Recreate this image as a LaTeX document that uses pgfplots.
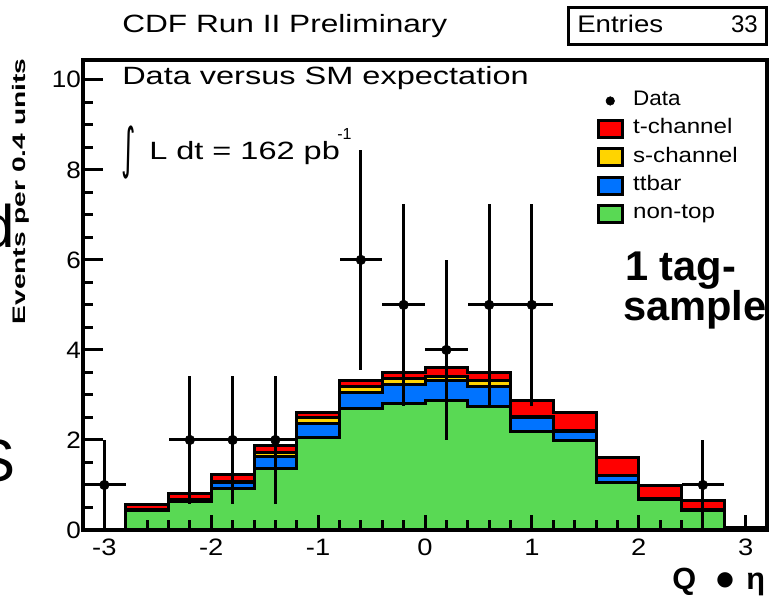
\documentclass[border=0pt]{standalone}
\usepackage{pgfplots}
\pgfplotsset{compat=1.18}
\usepackage{pgfplotstable}
\usepackage{graphicx}
\usepackage{fontspec}
\setmainfont{Liberation Sans}
\newfontfamily\symfont{DejaVu Sans}

\definecolor{tchanred}{RGB}{255,0,0}
\definecolor{schanyellow}{RGB}{255,212,0}
\definecolor{ttbarblue}{RGB}{0,115,255}
\definecolor{nontopgreen}{RGB}{89,217,84}

\newcommand{\fsz}[1]{\fontsize{#1}{#1}\selectfont}
\newcommand{\sx}[2]{\scalebox{#1}[1]{#2}}

% upper edge of each stacked layer, per 0.4-wide bin (bin low edge in xlo)
\pgfplotstableread{
xlo   nontop ttbar schan tchan
-3.2  0.00   0.00  0.00  0.00
-2.8  0.43   0.45  0.46  0.57
-2.4  0.63   0.65  0.67  0.80
-2.0  0.93   1.05  1.08  1.24
-1.6  1.37   1.63  1.73  1.87
-1.2  2.05   2.36  2.49  2.62
-0.8  2.70   3.05  3.18  3.31
-0.4  2.81   3.24  3.37  3.50
 0.0  2.87   3.32  3.42  3.62
 0.4  2.74   3.19  3.32  3.49
 0.8  2.18   2.50  2.52  2.87
 1.2  1.98   2.18  2.20  2.62
 1.6  1.05   1.20  1.22  1.62
 2.0  0.67   0.68  0.69  0.98
 2.4  0.43   0.44  0.45  0.66
 2.8  0.03   0.03  0.04  0.06
 3.2  0.03   0.03  0.04  0.06
}\stacktable

% observed events: bin centre, count, half bin width, Poisson error
\pgfplotstableread{
x     n  ex   ey
-3.0  1  0.2  1.000
-2.2  2  0.2  1.414
-1.8  2  0.2  1.414
-1.4  2  0.2  1.414
-0.6  6  0.2  2.449
-0.2  5  0.2  2.236
 0.2  4  0.2  2.000
 0.6  5  0.2  2.236
 1.0  5  0.2  2.236
 2.6  1  0.2  1.000
}\datatable

\tikzset{pixel/.style={x=0.75pt,y=-0.75pt,shift={(-62.25pt,397.5pt)}}}

\begin{document}
\begin{tikzpicture}
% slide text lying behind the frame
\begin{scope}[pixel]
  \node[anchor=base west, inner sep=0, font=\bfseries\fsz{31.2pt}] at (625,280) {1 tag-};
  \node[anchor=base west, inner sep=0, font=\bfseries\fsz{31.2pt}] at (623,320) {sample};
  \node[anchor=base west, inner sep=0, font=\fsz{45pt}] at (-19,247) {d};
  \node[anchor=base west, inner sep=0, font=\fsz{45pt}] at (-25,481) {S};
\end{scope}

\begin{axis}[
  scale only axis, width=513pt, height=352.5pt,
  xmin=-3.2, xmax=3.2, ymin=0, ymax=10.44,
  axis on top,
  axis line style={line width=2.6pt},
  tick pos=left, tick align=inside,
  every tick/.append style={black, line width=2.25pt},
  xtick={-3,...,3},
  xticklabels={\sx{1.15}{-3},\sx{1.15}{-2},\sx{1.15}{-1},\sx{1.15}{0},\sx{1.15}{1},\sx{1.15}{2},\sx{1.15}{3}},
  ytick={0,2,...,10},
  yticklabels={\sx{1.1}{0},\sx{1.1}{2},\sx{1.1}{4},\sx{1.1}{6},\sx{1.1}{8},\sx{1.1}{10}},
  minor x tick num=4, minor y tick num=3,
  xtick style={/pgfplots/major tick length=11.25pt,/pgfplots/minor tick length=7.5pt},
  ytick style={/pgfplots/major tick length=15pt,/pgfplots/minor tick length=7.5pt},
  tick label style={font=\fsz{17.8pt}},
  xticklabel style={yshift=-3pt},
  yticklabel style={xshift=2pt},
  legend cell align=left,
  legend style={at={(axis description cs:0.7507,0.934)}, anchor=north west,
    draw=none, fill=none, inner sep=0pt, row sep=6.2pt, font=\fsz{15.75pt},
    nodes={inner sep=0pt, text height=11pt, text depth=3.5pt},
    /tikz/every odd column/.append style={column sep=7pt}},
]
% legend entries
\addlegendimage{legend image code/.code={\fill[black] plot[mark=*, mark size=3.2pt] coordinates {(9pt,0pt)};}}
\addlegendentry{\sx{1.07}{Data}}
\addlegendimage{legend image code/.code={\draw[black, line width=2.25pt, fill=tchanred] (0pt,-6.4pt) rectangle (18pt,6.4pt);}}
\addlegendentry{\sx{1.15}{t-channel}}
\addlegendimage{legend image code/.code={\draw[black, line width=2.25pt, fill=schanyellow] (0pt,-6.4pt) rectangle (18pt,6.4pt);}}
\addlegendentry{\sx{1.15}{s-channel}}
\addlegendimage{legend image code/.code={\draw[black, line width=2.25pt, fill=ttbarblue] (0pt,-6.4pt) rectangle (18pt,6.4pt);}}
\addlegendentry{\sx{1.15}{ttbar}}
\addlegendimage{legend image code/.code={\draw[black, line width=2.25pt, fill=nontopgreen] (0pt,-6.4pt) rectangle (18pt,6.4pt);}}
\addlegendentry{\sx{1.15}{non-top}}

% stacked expectation, outermost layer first
\addplot[const plot mark left, fill=tchanred, draw=black, line width=2.25pt, forget plot]
  table[x=xlo, y=tchan] {\stacktable} \closedcycle;
\addplot[const plot mark left, fill=schanyellow, draw=black, line width=2.25pt, forget plot]
  table[x=xlo, y=schan] {\stacktable} \closedcycle;
\addplot[const plot mark left, fill=ttbarblue, draw=black, line width=2.25pt, forget plot]
  table[x=xlo, y=ttbar] {\stacktable} \closedcycle;
\addplot[const plot mark left, fill=nontopgreen, draw=black, line width=2.25pt, forget plot]
  table[x=xlo, y=nontop] {\stacktable} \closedcycle;

% data with error bars
\addplot[only marks, mark=*, mark size=3.6pt, black, forget plot,
  error bars/.cd, x dir=both, x explicit, y dir=both, y explicit,
  error mark=none, error bar style={line width=2.25pt, black}]
  table[x=x, y=n, x error=ex, y error=ey] {\datatable};
\end{axis}

\begin{scope}[pixel]
  \node[anchor=base west, inner sep=0, font=\fsz{18.75pt}] at (122,33) {\sx{1.265}{CDF Run II Preliminary}};
  \draw[line width=2.25pt] (568.5,8) rectangle (766.5,44.5);
  \node[anchor=base west, inner sep=0, font=\fsz{18pt}] at (577,33) {\sx{1.15}{Entries}};
  \node[anchor=base east, inner sep=0, font=\fsz{18pt}] at (758,33) {33};
  \node[anchor=base west, inner sep=0, font=\fsz{18.75pt}] at (122,85) {\sx{1.3}{Data versus SM expectation}};
  \node[inner sep=0, font=\symfont\fsz{18.75pt}] at (129,152.5) {\scalebox{1.1}[2.2]{∫}};
  \node[anchor=base west, inner sep=0, font=\fsz{18.75pt}] at (149,160) {\sx{1.3}{L dt = 162 pb}};
  \node[anchor=base west, inner sep=0, font=\fsz{12pt}] at (337,140) {-1};
  \node[rotate=90, inner sep=0, font=\bfseries\fsz{13.6pt}] at (21,191.5) {\sx{1.55}{Events per 0.4 units}};
  \node[anchor=base west, inner sep=0, font=\bfseries\fsz{23pt}] at (672,589) {Q};
  \node[inner sep=0, font=\symfont\fsz{15pt}] at (725,580) {●};
  \node[anchor=base west, inner sep=0, font=\bfseries\fsz{23pt}] at (746,589) {η};
\end{scope}

\pgfresetboundingbox
\path[pixel, use as bounding box] (0,0) rectangle (770,597);
\end{tikzpicture}
\end{document}
